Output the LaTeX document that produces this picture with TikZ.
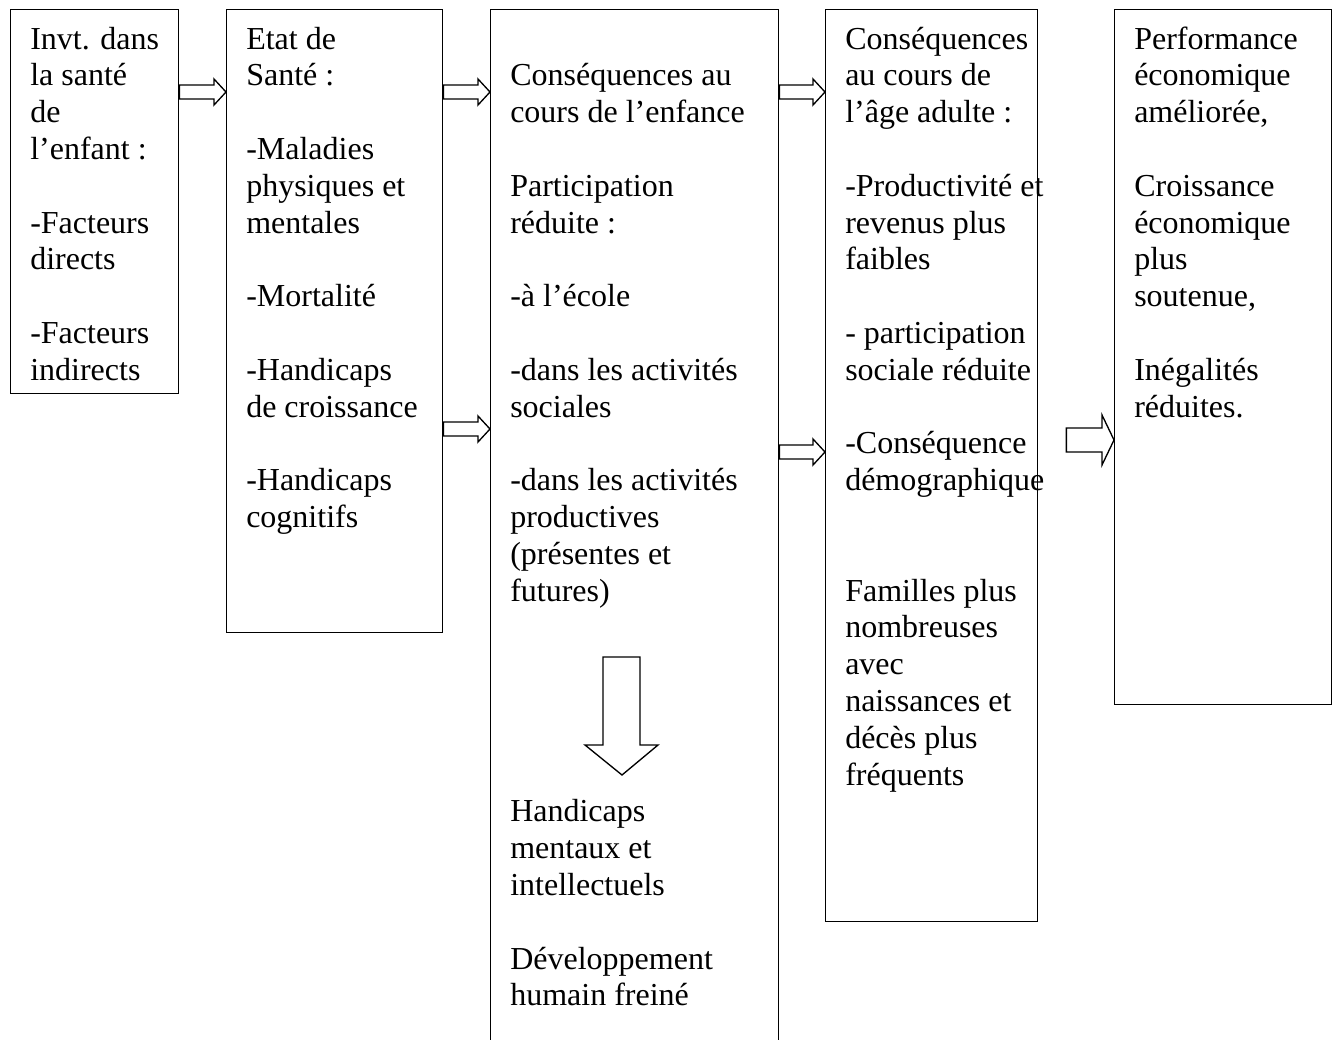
\documentclass[tikz,border=0pt]{standalone}
\usepackage{fontspec}
\setmainfont{Liberation Serif}
\usetikzlibrary{calc}
\tikzset{
  box/.style={draw, line width=1pt, inner sep=0pt, anchor=north west},
  txt/.style={anchor=base west, inner sep=0pt, font=\fontsize{24pt}{27.6pt}\selectfont},
  blockarrow/.style={draw, line width=1pt, line join=miter},
}
% #1 from node, #2 to node, #3 y (px), #4 half shaft, #5 half head, #6 start gap
\newcommand\rarrow[6]{%
  \coordinate (ya) at (0,#3);
  \coordinate (s) at ($(#1.east |- ya)+(#6,0)$);
  \coordinate (t) at (#2.west |- ya);
  \draw[blockarrow] ($(s)+(0,-#4)$) -- ($(t)+(-12,-#4)$) -- ($(t)+(-12,-#5)$) -- (t)
     -- ($(t)+(-12,#5)$) -- ($(t)+(-12,#4)$) -- ($(s)+(0,#4)$) -- cycle;
}
\newcommand\boxtext[2]{%
  \foreach \k/\t in {#2} {\node[txt] (#1-\k) at ($(#1.north west)+(20,40+36.8*\k)$) {\t};}%
}
\begin{document}
\begin{tikzpicture}[x=0.75pt,y=-0.75pt]
\clip (0,0) rectangle (1338,1039);
\useasboundingbox (0,0) rectangle (1338,1039);
\fill[white] (0,0) rectangle (1338,1039);

\node[box, minimum width=126pt, minimum height=288pt] (b1) at (10,9) {};
\node[box, minimum width=162pt, minimum height=467.25pt] (b2) at (226,9) {};
\node[box, minimum width=216pt, minimum height=790pt] (b3) at (490,9) {};
\node[box, minimum width=159pt, minimum height=684pt] (b4) at (825,9) {};
\node[box, minimum width=162.75pt, minimum height=521.25pt] (b5) at (1114,9) {};

\boxtext{b1}{0/Invt. dans, 1/la santé, 2/de, 3/l’enfant :, 5/-Facteurs, 6/directs, 8/-Facteurs, 9/indirects}
\boxtext{b2}{0/Etat de, 1/Santé :, 3/-Maladies, 4/physiques et, 5/mentales, 7/-Mortalité, 9/-Handicaps, 10/de croissance, 12/-Handicaps, 13/cognitifs}
\boxtext{b3}{1/Conséquences au, 2/cours de l’enfance, 4/Participation, 5/réduite :, 7/-à l’école, 9/-dans les activités, 10/sociales, 12/-dans les activités, 13/productives, 14/(présentes et, 15/futures), 21/Handicaps, 22/mentaux et, 23/intellectuels, 25/Développement, 26/humain freiné}
\boxtext{b4}{0/Conséquences, 1/au cours de, 2/l’âge adulte :, 4/-Productivité et, 5/revenus plus, 6/faibles, 8/- participation, 9/sociale réduite, 11/-Conséquence, 12/démographique, 15/Familles plus, 16/nombreuses, 17/avec, 18/naissances et, 19/décès plus, 20/fréquents}
\boxtext{b5}{0/Performance, 1/économique, 2/{améliorée,}, 4/Croissance, 5/économique, 6/plus, 7/{soutenue,}, 9/Inégalités, 10/réduites.}

\rarrow{b1}{b2}{92}{7}{13}{0}
\rarrow{b2}{b3}{92}{7}{13}{0}
\rarrow{b2}{b3}{429}{7}{13}{0}
\rarrow{b3}{b4}{92}{7}{13}{0}
\rarrow{b3}{b4}{452}{7}{13}{0}
\rarrow{b4}{b5}{440}{12}{25}{28}

\draw[blockarrow] (603,657) -- (640,657) -- (640,745) -- (658,745) -- (622,775)
  -- (585,745) -- (603,745) -- cycle;
\end{tikzpicture}
\end{document}
